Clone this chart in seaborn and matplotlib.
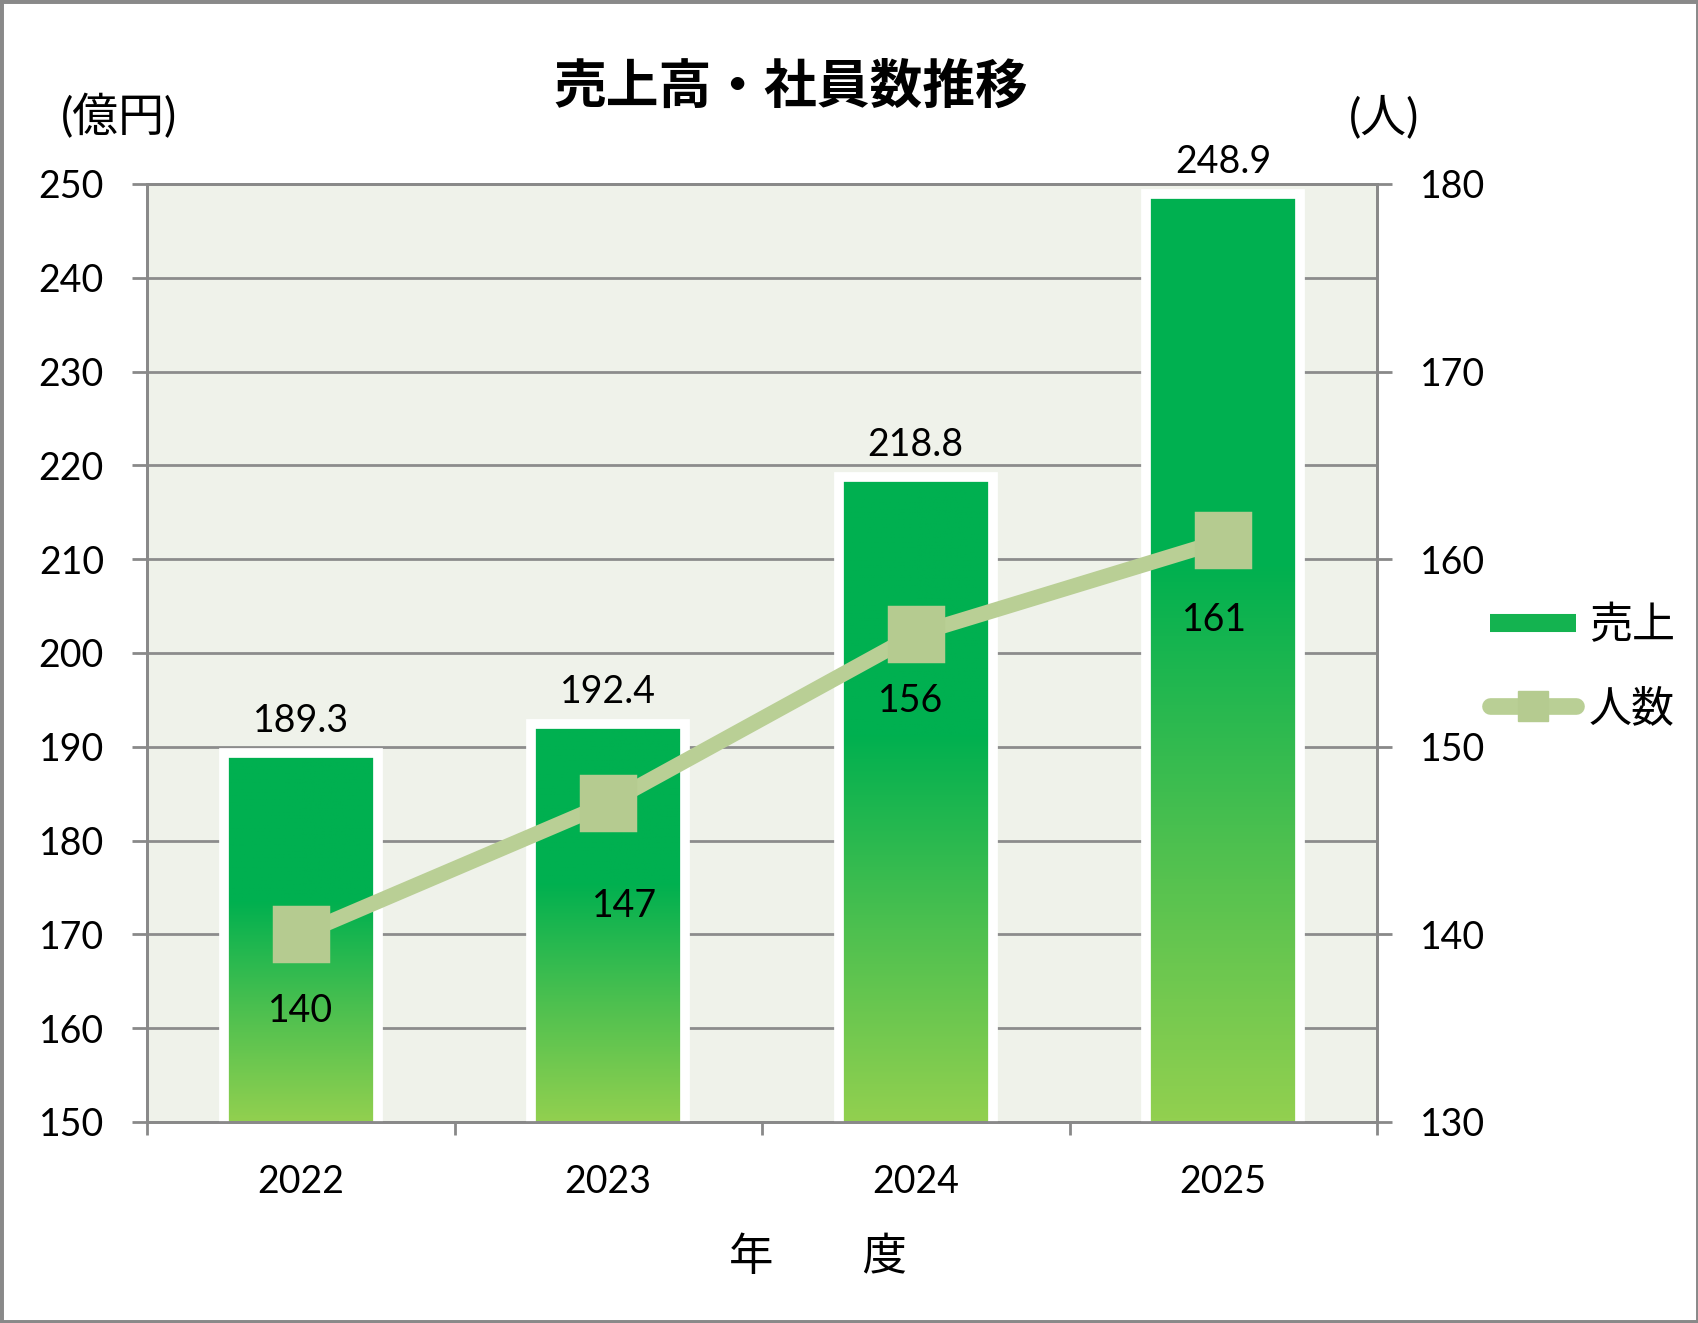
import numpy as np
import pandas as pd
import matplotlib
matplotlib.use('Agg')
import matplotlib.pyplot as plt
from matplotlib.colors import LinearSegmentedColormap
from matplotlib.lines import Line2D
from matplotlib.patches import Rectangle
from matplotlib.ticker import FixedLocator
import seaborn as sns

# データ
years = ['2022', '2023', '2024', '2025']
sales = [189.3, 192.4, 218.8, 248.9]   # 売上 (億円)
staff = [140, 147, 156, 161]           # 人数 (人)
# 人数ラベルの位置ずらし (pt)
staff_label_offsets = [(0, -55), (12, -74), (-4, -48), (-6, -57)]

sns.set_theme(style='white')
plt.rcParams['font.family'] = ['Lato', 'Noto Sans CJK JP', 'DejaVu Sans']
plt.rcParams['text.color'] = 'black'

GRAY = '#898989'
LINE_C = '#B9CF95'
MARK_C = '#B5CB90'

W, H = 1699, 1323
fig = plt.figure(figsize=(W / 100, H / 100), dpi=100)
ax = fig.add_axes([147 / W, 1 - 1122 / H, 1230 / W, 938 / H])
ax.set_facecolor('#EFF2EA')

df = pd.DataFrame({'年度': years, '売上': sales, '人数': staff})

# 棒グラフ (売上)
sns.barplot(data=df, x='年度', y='売上', ax=ax, width=0.5, color='#00B050',
            saturation=1, linewidth=7, edgecolor='white', zorder=3)
ax.set_ylim(150, 250)
ax.set_xlim(-0.5, 3.5)

# グラデーション塗り
cmap = LinearSegmentedColormap.from_list(
    'grad', [(0, '#92D050'), (0.3, '#4DC04F'), (0.6, '#00B050'), (1, '#00B050')])
grad = np.linspace(0, 1, 256).reshape(-1, 1)
ylo = ax.get_ylim()[0]
for p in ax.patches:
    x0, w = p.get_x(), p.get_width()
    top = p.get_y() + p.get_height()
    p.set_facecolor('none')
    im = ax.imshow(grad, extent=[x0, x0 + w, ylo, top], origin='lower',
                   aspect='auto', cmap=cmap, zorder=2)
    im.set_clip_path(p)
ax.set_ylim(150, 250)
ax.set_xlim(-0.5, 3.5)

ax.bar_label(ax.containers[0], fmt='%.1f', padding=10, fontsize=27)

ax.grid(axis='y', color='#8C8C8C', linewidth=2)
ax.set_axisbelow(True)
ax.set_yticks(range(150, 251, 10))
ax.set_xticks(range(len(years)))
ax.set_xticklabels(years)
ax.xaxis.set_minor_locator(FixedLocator([-0.5, 0.5, 1.5, 2.5, 3.5]))
ax.tick_params(axis='y', left=True, length=11, width=2, color=GRAY,
               labelcolor='black', labelsize=27, pad=20)
ax.tick_params(axis='x', which='major', bottom=True, length=0,
               labelcolor='black', labelsize=27, pad=30)
ax.tick_params(axis='x', which='minor', bottom=True, length=9, width=2, color=GRAY)
ax.set_xlabel('')
ax.set_ylabel('')
for s in ax.spines.values():
    s.set_color(GRAY)
    s.set_linewidth(2)

# 折れ線 (人数)
ax2 = ax.twinx()
sns.pointplot(data=df, x='年度', y='人数', ax=ax2, color=LINE_C, markers='s',
              errorbar=None, markersize=33, linewidth=11,
              markerfacecolor=MARK_C, markeredgecolor=MARK_C)
ax2.set_ylim(130, 180)
ax2.set_xlim(-0.5, 3.5)
ax2.set_yticks(range(130, 181, 10))
ax2.tick_params(axis='y', right=True, length=11, width=2, color=GRAY,
                labelcolor='black', labelsize=27, pad=20)
ax2.set_ylabel('')
ax2.grid(False)
for s in ax2.spines.values():
    s.set_color(GRAY)
    s.set_linewidth(2)

for i, v in enumerate(staff):
    ax2.annotate(str(v), xy=(i, v), xytext=staff_label_offsets[i],
                 textcoords='offset points', ha='center', va='center', fontsize=27)

# タイトル・単位
fig.text(791 / W, 1 - 87 / H, '売上高・社員数推移', ha='center', va='center',
         fontsize=38, fontweight='bold')
fig.text(119 / W, 1 - 117 / H, '(億円)', ha='center', va='center', fontsize=33)
fig.text(1384 / W, 1 - 117 / H, '(人)', ha='center', va='center', fontsize=33)
fig.text(818 / W, 1 - 1257 / H, '年\u3000\u3000度', ha='center', va='center', fontsize=32)

# 凡例
handles = [
    Line2D([], [], color='#14B350', lw=13, solid_capstyle='butt'),
    Line2D([], [], color=LINE_C, lw=12, solid_capstyle='round', marker='s',
           markersize=21, markerfacecolor=MARK_C, markeredgecolor=MARK_C),
]
fig.legend(handles, ['売上', '人数'], loc='center left',
           bbox_to_anchor=(1490 / W, 1 - 666 / H), frameon=False, fontsize=31,
           handlelength=2.0, handletextpad=0.3, labelspacing=1.0,
           borderpad=0, borderaxespad=0)

fig.add_artist(Rectangle((0, 0), 1, 1, transform=fig.transFigure, fill=False,
                         edgecolor=GRAY, linewidth=5))

fig.savefig('out.png', dpi=100)
